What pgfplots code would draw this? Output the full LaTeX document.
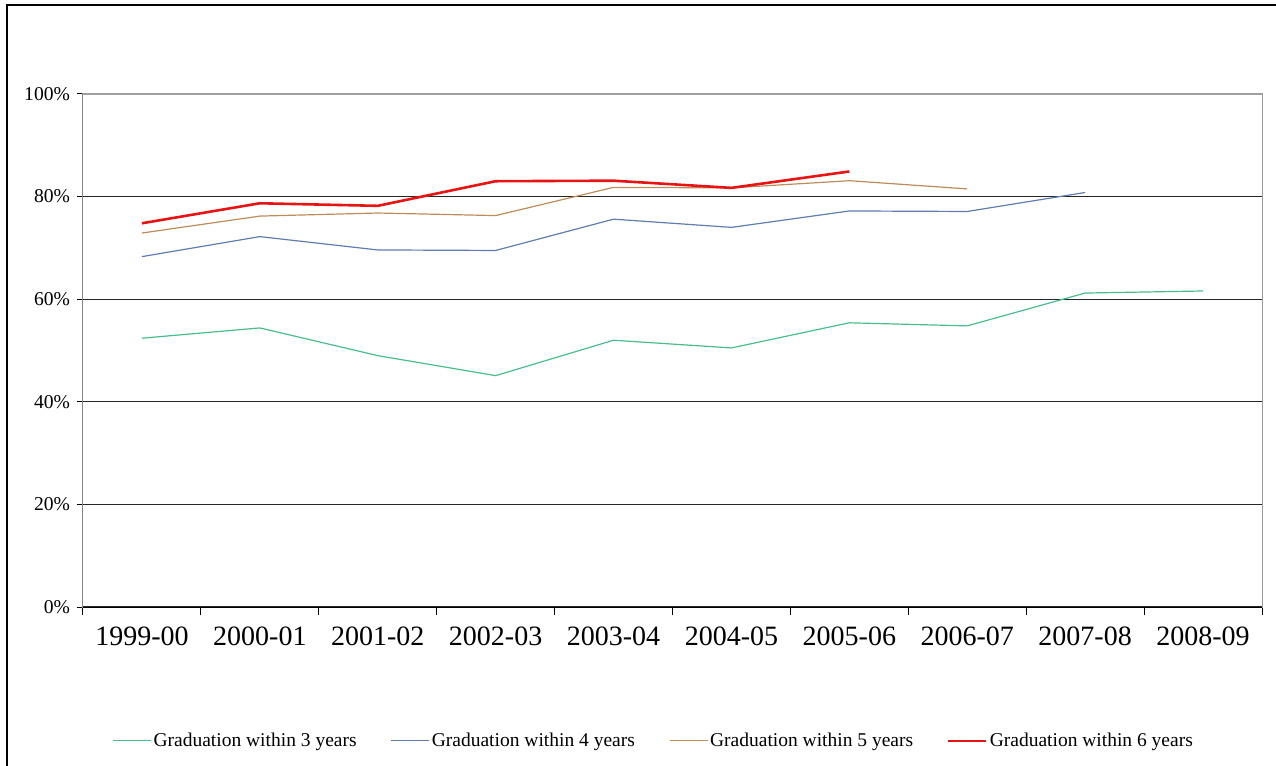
\documentclass[border=0pt]{standalone}
\usepackage{pgfplots}
\pgfplotsset{compat=1.18}
\usepackage{fontspec}
\setmainfont{Liberation Serif}
\definecolor{cgreen}{RGB}{72,190,140}
\definecolor{cblue}{RGB}{95,125,175}
\definecolor{cbrown}{RGB}{190,140,90}
\definecolor{cred}{RGB}{232,20,20}
\begin{document}
\begin{tikzpicture}
\path[use as bounding box] (0pt,0pt) rectangle (638pt,383pt);
\draw[line width=0.8pt] (3.5pt,0pt) -- (3.5pt,380.5pt) -- (638pt,380.5pt);
\begin{axis}[
  at={(41.5pt,79.5pt)}, anchor=south west,
  scale only axis, width=589.5pt, height=256.5pt,
  xmin=0.5, xmax=10.5, ymin=0, ymax=100,
  xtick={1,...,10},
  xticklabels={1999-00,2000-01,2001-02,2002-03,2003-04,2004-05,2005-06,2006-07,2007-08,2008-09},
  major x tick style={draw=none},
  minor xtick={0.5,1.5,...,10.5},
  minor tick length=4pt,
  major tick length=3pt,
  tick align=outside,
  tick style={black, line width=0.5pt},
  ytick={0,20,...,100},
  yticklabels={0\%,20\%,40\%,60\%,80\%,100\%},
  ymajorgrids, grid style={black!85, line width=0.6pt},
  axis line style={gray!80, line width=0.5pt},
  xticklabel style={font=\fontsize{14}{16}\selectfont, yshift=-3.5pt},
  yticklabel style={font=\fontsize{9.8}{11}\selectfont},
  xtick pos=bottom, ytick pos=left,
  legend columns=4,
  legend style={at={(0.484,-0.261)}, anchor=center, draw=none, fill=none,
    font=\fontsize{9.75}{11}\selectfont,
    nodes={inner xsep=1pt},
    /tikz/every odd column/.append style={column sep=0pt},
    /tikz/every even column/.append style={column sep=16pt}},
  legend image code/.code={\draw[#1] (0pt,0pt) -- (19pt,0pt);},
]
\addplot[cgreen, line width=0.6pt] coordinates {(1,52.4) (2,54.4) (3,49.0) (4,45.1) (5,52.0) (6,50.5) (7,55.4) (8,54.8) (9,61.2) (10,61.6)};
\addlegendentry{Graduation within 3 years}
\addplot[cblue, line width=0.6pt] coordinates {(1,68.3) (2,72.2) (3,69.6) (4,69.5) (5,75.6) (6,74.0) (7,77.2) (8,77.1) (9,80.8)};
\addlegendentry{Graduation within 4 years}
\addplot[cbrown, line width=0.6pt] coordinates {(1,72.9) (2,76.2) (3,76.8) (4,76.3) (5,81.8) (6,81.7) (7,83.1) (8,81.5)};
\addlegendentry{Graduation within 5 years}
\addplot[cred, line width=1.3pt] coordinates {(1,74.8) (2,78.7) (3,78.2) (4,83.0) (5,83.1) (6,81.7) (7,84.9)};
\addlegendentry{Graduation within 6 years}
\draw[gray!75, line width=0.7pt] (rel axis cs:0,1) -- (rel axis cs:1,1);
\draw[black, line width=0.5pt] (rel axis cs:0,0) -- (rel axis cs:0,1);
\draw[black, line width=0.5pt] (rel axis cs:0,0) -- (rel axis cs:1,0);
\end{axis}
\end{tikzpicture}
\end{document}
